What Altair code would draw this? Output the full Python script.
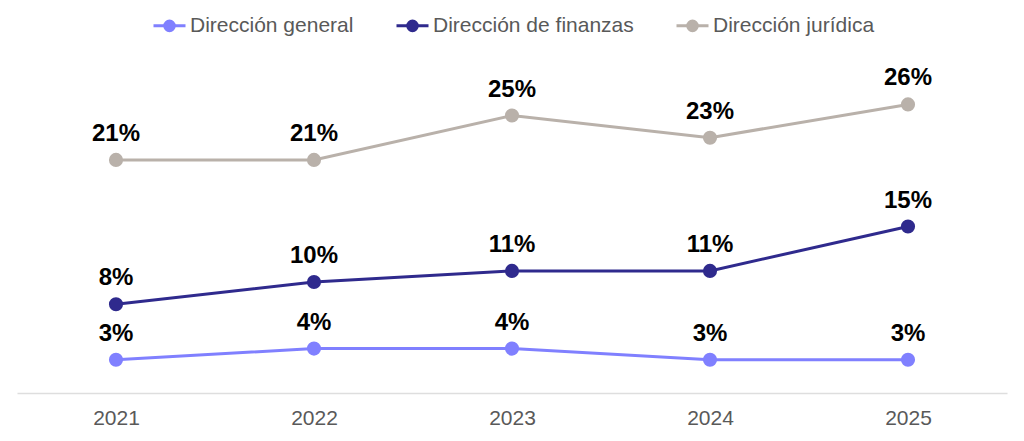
import altair as alt
import pandas as pd

years = ["2021", "2022", "2023", "2024", "2025"]
series_names = ["Dirección general", "Dirección de finanzas", "Dirección jurídica"]
general = [3, 4, 4, 3, 3]
finanzas = [8, 10, 11, 11, 15]
juridica = [21, 21, 25, 23, 26]
colors = ["#8080ff", "#2f2a8d", "#b9b1aa"]

rows = []
for name, vals in zip(series_names, [general, finanzas, juridica]):
    for y, v in zip(years, vals):
        rows.append({"year": y, "series": name, "value": v, "label": f"{v}%"})
df = pd.DataFrame(rows)

FONT = "Liberation Sans"
color_scale = alt.Scale(domain=series_names, range=colors)

sym_path = ("M-1,0H1"
            "M0.3,0A0.3,0.3 0 1,1 -0.3,0A0.3,0.3 0 1,1 0.3,0"
            "M0.15,0A0.15,0.15 0 1,1 -0.15,0A0.15,0.15 0 1,1 0.15,0")

x_enc = alt.X("year:O", sort=years,
              scale=alt.Scale(type="point", padding=0.5),
              axis=alt.Axis(title=None, labelAngle=0, ticks=False, grid=False,
                            domainColor="#dedede", domainWidth=1.5,
                            labelFontSize=21, labelColor="#595959",
                            labelFont=FONT, labelPadding=14))
y_enc = alt.Y("value:Q", scale=alt.Scale(domain=[0, 30]), axis=None)

base = alt.Chart(df)

lines = base.mark_line(strokeWidth=3).encode(
    x=x_enc, y=y_enc,
    color=alt.Color("series:N", scale=color_scale, sort=series_names,
                    legend=alt.Legend(title=None, orient="none", direction="horizontal",
                                      legendX=135, legendY=-52,
                                      symbolType=sym_path, symbolSize=1024,
                                      symbolStrokeWidth=3,
                                      labelFontSize=21, labelColor="#595959",
                                      labelFont=FONT, labelOffset=3, labelLimit=0,
                                      columnPadding=36, padding=0)),
    detail="series:N",
)

points = base.mark_circle(size=200, opacity=1).encode(
    x=x_enc, y=y_enc,
    color=alt.Color("series:N", scale=color_scale, legend=None),
)

labels = base.mark_text(dy=-19, baseline="alphabetic", fontSize=24,
                        fontWeight="bold", font=FONT, color="#000000").encode(
    x=x_enc, y=y_enc, text="label:N",
)

chart = alt.layer(lines, points, labels).properties(
    width=990, height=333,
    autosize=alt.AutoSizeParams(type="none"),
    padding={"left": 9, "top": 52, "right": 8, "bottom": 40},
).configure_view(stroke=None)

chart.save("out.html", embed_options={"renderer": "svg", "actions": False})
